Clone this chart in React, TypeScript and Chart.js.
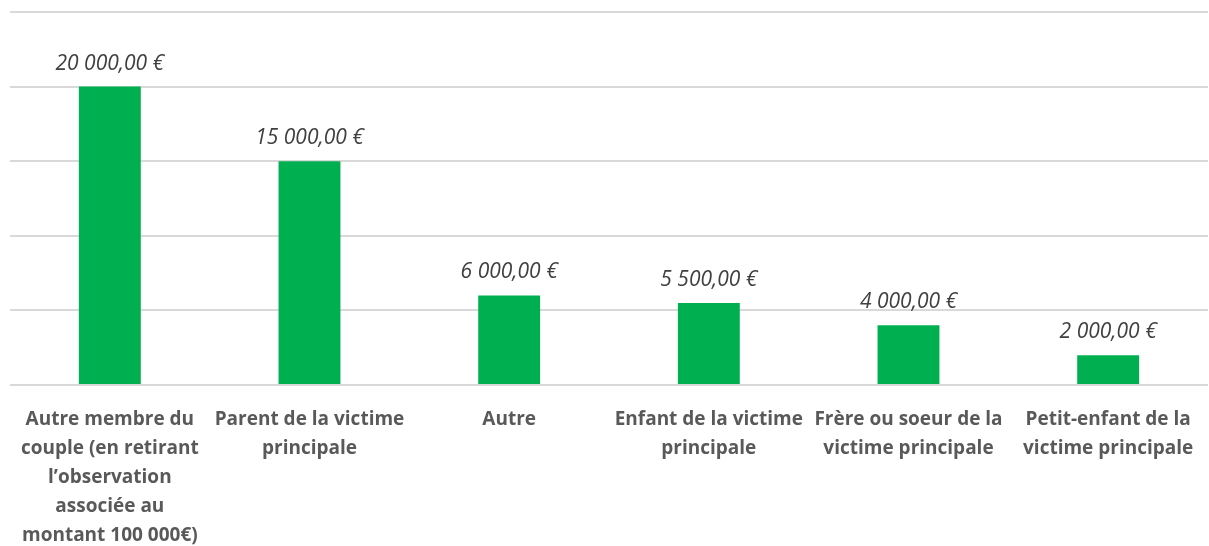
import React, { useEffect, useRef } from "react";
import { Chart, registerables } from "chart.js";

Chart.register(...registerables);

const categories: string[][] = [
  ["Autre membre du", "couple (en retirant", "l’observation", "associée au", "montant 100 000€)"],
  ["Parent de la victime", "principale"],
  ["Autre"],
  ["Enfant de la victime", "principale"],
  ["Frère ou soeur de la", "victime principale"],
  ["Petit-enfant de la", "victime principale"],
];
const values: number[] = [20000, 15000, 6000, 5500, 4000, 2000];
const yTicks: number[] = [0, 5000, 10000, 15000, 20000, 25000];

const fmt = (v: number) => {
  const s = Math.round(v).toString().replace(/\B(?=(\d{3})+(?!\d))/g, " ");
  return s + ",00 €";
};

const dataLabels = {
  id: "dataLabels",
  afterDatasetsDraw(chart: any) {
    const ctx = chart.ctx;
    const meta = chart.getDatasetMeta(0);
    ctx.save();
    ctx.font = "italic 21px 'Open Sans'";
    ctx.fillStyle = "#404040";
    ctx.textAlign = "center";
    ctx.textBaseline = "middle";
    meta.data.forEach((bar: any, i: number) => {
      ctx.fillText(fmt(values[i]), bar.x, bar.y - 23);
    });
    ctx.restore();
  },
};

export default function App() {
  const ref = useRef<HTMLCanvasElement>(null);
  useEffect(() => {
    document.body.style.margin = "0";
    const chart = new Chart(ref.current!, {
      type: "bar",
      data: {
        labels: categories,
        datasets: [
          {
            data: values,
            backgroundColor: "#00B050",
            barPercentage: 0.62,
            categoryPercentage: 0.5,
          },
        ],
      },
      options: {
        animation: false,
        responsive: false,
        maintainAspectRatio: false,
        layout: { padding: { left: 10, right: 1, top: 12, bottom: 0 } },
        plugins: { legend: { display: false }, tooltip: { enabled: false } },
        scales: {
          x: {
            grid: { display: false },
            border: { display: false },
            ticks: {
              autoSkip: false,
              maxRotation: 0,
              minRotation: 0,
              color: "#595959",
              font: { family: "'Open Sans'", size: 19, weight: "bold", lineHeight: 29 / 19 },
              padding: 12,
            },
            afterFit(scale: any) {
              scale.height = 161;
            },
          },
          y: {
            min: 0,
            max: 25000,
            afterBuildTicks(scale: any) {
              scale.ticks = yTicks.map((v) => ({ value: v }));
            },
            ticks: { display: false },
            grid: { color: "#d9d9d9", lineWidth: 2, drawTicks: false },
            border: { display: false },
            afterFit(scale: any) {
              scale.width = 0;
            },
          },
        },
      },
      plugins: [dataLabels],
    });
    return () => chart.destroy();
  }, []);
  return (
    <div style={{ position: "absolute", left: 0, top: 0, width: 1209, height: 546 }}>
      <canvas ref={ref} width={1209} height={546} />
    </div>
  );
}
